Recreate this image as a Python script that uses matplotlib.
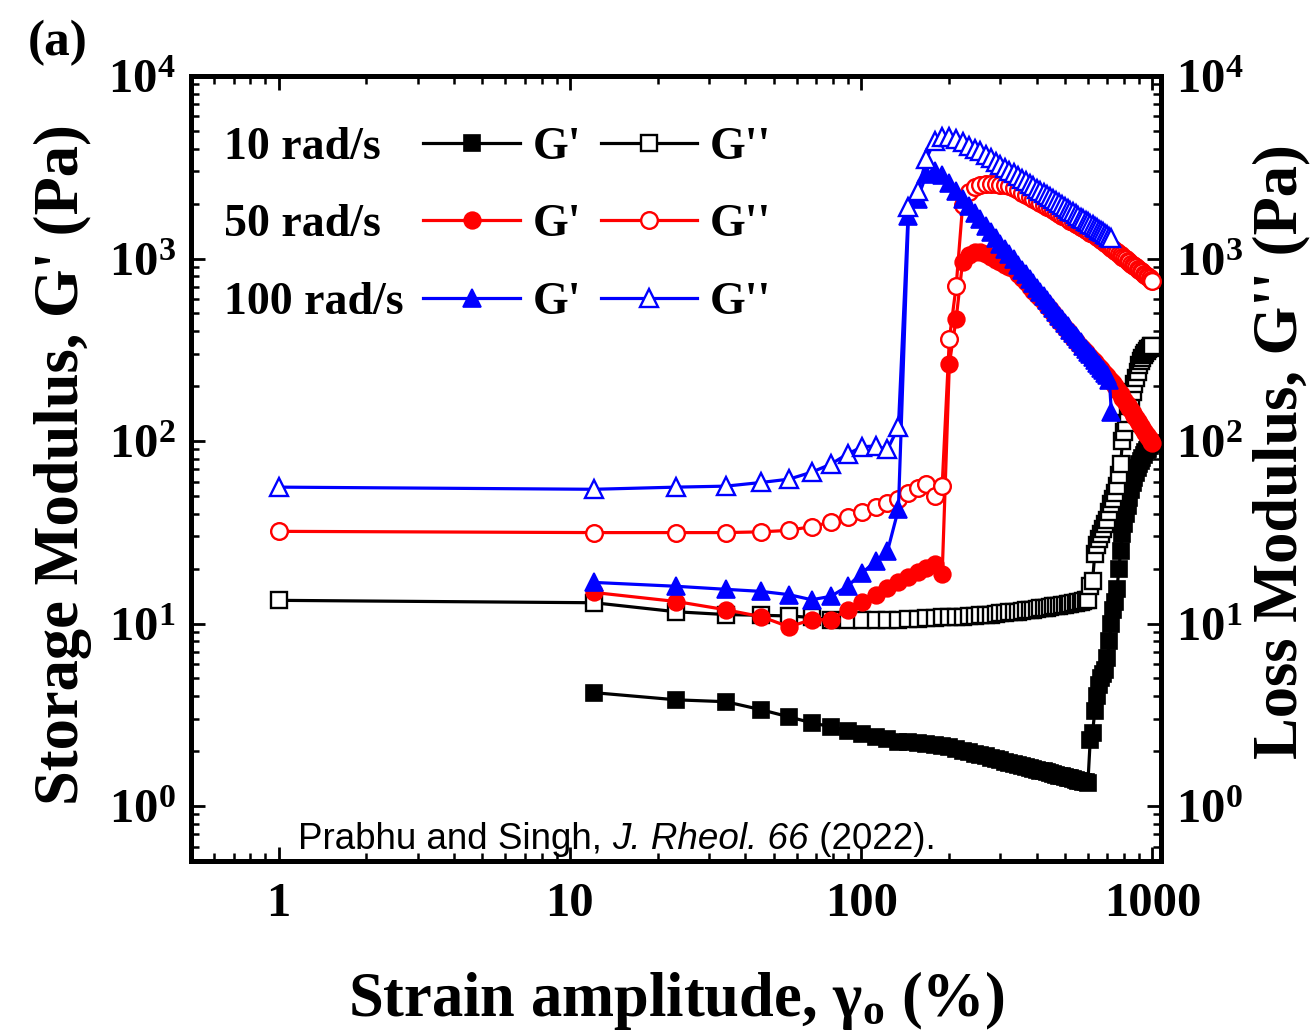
import math
import matplotlib
matplotlib.use("Agg")
import matplotlib.pyplot as plt
from matplotlib.lines import Line2D
from matplotlib.ticker import FuncFormatter, LogLocator

plt.rcParams['font.family'] = ['Liberation Serif', 'DejaVu Serif']
plt.rcParams['font.weight'] = 'bold'
plt.rcParams['axes.labelweight'] = 'bold'
plt.rcParams['mathtext.fontset'] = 'custom'
plt.rcParams['mathtext.rm'] = 'Liberation Serif:bold'
plt.rcParams['mathtext.bf'] = 'Liberation Serif:bold'
plt.rcParams['mathtext.it'] = 'Liberation Serif:bold:italic'

# ---------------- data ----------------
strain = [1.0, 12.1, 23.2, 34.3, 45.4, 56.5, 67.6, 78.7, 89.8, 100.9,
          112.0, 123.1, 134.2, 145.3, 156.4, 167.5, 178.6, 189.7, 200.8, 211.9,
          223.0, 234.1, 245.2, 256.3, 267.4, 278.5, 289.6, 300.7, 311.8, 322.9,
          334.0, 345.1, 356.2, 367.3, 378.4, 389.5, 400.6, 411.7, 422.8, 433.9,
          445.0, 456.1, 467.2, 478.3, 489.4, 500.5, 511.6, 522.7, 533.8, 544.9,
          556.0, 567.1, 578.2, 589.3, 600.4, 611.5, 622.6, 633.7, 644.8, 655.9,
          667.0, 678.1, 689.2, 700.3, 711.4, 722.5, 733.6, 744.7, 755.8, 766.9,
          778.0, 789.1, 800.2, 811.3, 822.4, 833.5, 844.6, 855.7, 866.8, 877.9,
          889.0, 900.1, 911.2, 922.3, 933.4, 944.5, 955.6, 966.7, 977.8, 988.9,
          1000.0]

# 10 rad/s
g2_10 = [13.4, 13.0, 11.6, 11.2, 11.1, 11.0, 10.8, 10.5, 10.5, 10.5,
         10.5, 10.5, 10.5, 10.6, 10.6, 10.7, 10.7, 10.8, 10.8, 10.9,
         10.9, 11.0, 11.0, 11.1, 11.2, 11.2, 11.3, 11.4, 11.4, 11.5,
         11.6, 11.6, 11.7, 11.8, 11.8, 11.9, 12.0, 12.1, 12.1, 12.2,
         12.3, 12.4, 12.4, 12.5, 12.6, 12.7, 12.8, 12.8, 12.9, 13.0,
         13.1, 13.2, 13.3, 13.4, 13.5, 16, 17, 24, 27, 29,
         31, 33, 35, 37, 41, 45, 48, 52, 57, 65,
         75, 100, 112, 125, 140, 155, 170, 185, 205, 222,
         240, 262, 275, 285, 295, 303, 310, 318, 325, 330,
         333]
g1_10 = [4.18, 3.82, 3.73, 3.37, 3.08, 2.86, 2.72, 2.58, 2.49,
         2.39, 2.33, 2.25, 2.23, 2.21, 2.19, 2.16, 2.13, 2.10, 2.05,
         2.01, 1.97, 1.93, 1.90, 1.87, 1.83, 1.80, 1.78, 1.75, 1.73,
         1.70, 1.68, 1.66, 1.64, 1.62, 1.60, 1.58, 1.56, 1.55, 1.53,
         1.51, 1.50, 1.48, 1.47, 1.46, 1.44, 1.43, 1.42, 1.41, 1.39,
         1.38, 1.37, 1.36, 1.35, 1.34, 2.3, 2.5, 3.3, 4.0, 4.6,
         5.0, 5.3, 5.6, 6.5, 8.0, 10.0, 11.8, 13.2, 15.5, 20,
         25, 31, 35, 40, 44, 49, 54, 59, 63, 67,
         71, 75, 78, 81, 84, 87, 89, 91, 94, 96,
         98]

# 50 rad/s
g2_50 = [32, 31.5, 31.5, 31.5, 31.8, 32.4, 34, 35.9, 38.2, 40.7,
         43.3, 46, 48, 51.9, 55.6, 58.5, 50, 57, 363, 707,
         1960, 2300, 2450, 2520, 2550, 2560, 2550, 2540, 2520, 2500,
         2435, 2364, 2297, 2235, 2175, 2118, 2064, 2015, 1966, 1920,
         1880, 1836, 1795, 1755, 1716, 1680, 1644, 1612, 1580, 1549,
         1518, 1490, 1463, 1437, 1411, 1387, 1364, 1340, 1318, 1296,
         1271, 1245, 1219, 1195, 1170, 1146, 1124, 1103, 1082, 1062,
         1043, 1024, 1006, 988, 971, 955, 938, 923, 907, 893,
         879, 865, 852, 839, 826, 813, 802, 789, 778, 767,
         757]
g1_50 = [14.8, 13.2, 11.9, 10.9, 9.6, 10.5, 10.5, 11.9, 13.2,
         14.4, 15.7, 16.8, 17.9, 19.1, 20.1, 21.1, 18.6, 265, 468,
         963, 1050, 1080, 1090, 1052, 1018, 986, 955, 927, 901,
         871, 824, 780, 739, 702, 667, 635, 606, 578, 552,
         526, 501, 478, 457, 437, 418, 401, 385, 369, 354,
         340, 328, 318, 307, 297, 288, 279, 270, 262, 254,
         247, 240, 233, 227, 220, 214, 208, 200, 193, 186,
         180, 173, 168, 162, 157, 151, 147, 142, 137, 133,
         129, 125, 121, 118, 114, 111, 108, 105, 102, 99,
         97]

# 100 rad/s
g2_100 = [55.9, 54.4, 55.9, 56.6, 59.3, 61.8, 67.5, 74.7, 85, 93,
          94, 90, 119, 1917, 2330, 3530, 4400, 4650, 4650, 4500,
          4350, 4150, 4000, 3863, 3694, 3540, 3398, 3264, 3142, 3030,
          2925, 2829, 2736, 2650, 2567, 2489, 2417, 2349, 2285, 2223,
          2164, 2110, 2056, 2006, 1958, 1913, 1870, 1829, 1788, 1750,
          1712, 1676, 1643, 1611, 1579, 1549, 1520, 1491, 1464, 1438,
          1413, 1389, 1366, 1343, 1320, 1290]
g1_100 = [16.8, 16.0, 15.4, 15.0, 14.4, 13.5, 14.1, 16.0, 19.0,
          21.9, 24.9, 42.3, 1700, 2130, 2900, 3000, 2850, 2600, 2350,
          2130, 1950, 1780, 1640, 1510, 1400, 1300, 1207, 1124, 1053,
          990, 927, 870, 818, 772, 730, 689, 654, 620, 589,
          560, 534, 509, 486, 465, 444, 425, 408, 391, 375,
          360, 347, 333, 321, 309, 298, 288, 278, 269, 260,
          252, 244, 236, 229, 215, 145]

freq_labels = ["10 rad/s", "50 rad/s", "100 rad/s"]
x_tick_labels = ["1", "10", "100", "1000"]

# ---------------- figure ----------------
W, H = 1312, 1035
fig = plt.figure(figsize=(W / 100, H / 100), dpi=100)
ax = fig.add_axes([191 / W, 1 - 861 / H, 970 / W, 785 / H])
ax.set_xscale('log')
ax.set_yscale('log')
ax.set_xlim(0.5, 1070)
ax.set_ylim(0.5, 1e4)

series = [
    # (G', G'', color, marker, ms, zorder)
    (g1_10, g2_10, 'black', 's', 11, 2),
    (g1_50, g2_50, 'red', 'o', 12, 3),
    (g1_100, g2_100, 'blue', '^', 13, 4),
]
lw = 2.3
handles_p, handles_pp = [], []
for g1, g2, col, mk, ms, z in series:
    x1 = strain[1:1 + len(g1)]
    x2 = strain[0:len(g2)]
    h1, = ax.plot(x1, g1, color=col, marker=mk, ms=ms, mfc=col, mec=col,
                  mew=1.2, lw=lw, zorder=z)
    h2, = ax.plot(x2, g2, color=col, marker=mk, ms=ms, mfc='white', mec=col,
                  mew=1.7, lw=lw, zorder=z + 0.5)
    handles_p.append(h1)
    handles_pp.append(h2)

# ticks
for sp in ax.spines.values():
    sp.set_linewidth(3.6)
ax.xaxis.set_major_locator(LogLocator(base=10, numticks=10))
ax.yaxis.set_major_locator(LogLocator(base=10, numticks=10))
ax.xaxis.set_minor_locator(LogLocator(base=10, subs=range(2, 10), numticks=20))
ax.yaxis.set_minor_locator(LogLocator(base=10, subs=range(2, 10), numticks=20))
ax.xaxis.set_major_formatter(FuncFormatter(
    lambda v, p: x_tick_labels[int(round(math.log10(v)))] if 1 <= v <= 1000 else ""))
ax.tick_params(which='both', direction='in', top=True, right=True,
               labelright=True, labelsize=35)
ax.tick_params(which='major', length=10, width=2.0)
ax.tick_params(which='minor', length=5.5, width=1.8)
ax.tick_params(axis='x', which='major', pad=15)
ax.tick_params(axis='y', which='major', pad=11)

# axis labels
ax.set_xlabel("Strain amplitude, γ$_{\\mathrm{o}}$ (%)", fontsize=45, va='top')
ax.xaxis.set_label_coords(0.5, -0.137)
ax.set_ylabel("Storage Modulus, G' (Pa)", fontsize=45, va='center')
ax.yaxis.set_label_coords(-0.132, 0.505)
ax.text(1.124, 0.521, "Loss Modulus, G'' (Pa)", fontsize=45, rotation=90,
        ha='center', va='center', rotation_mode='anchor', transform=ax.transAxes)

fig.text(28 / W, 1 - 43 / H, "(a)", fontsize=37, ha='left', va='center')

# legend
blank = [Line2D([], [], color='none') for _ in range(3)]
leg = ax.legend(blank + handles_p + handles_pp,
                freq_labels + ["G'"] * 3 + ["G''"] * 3,
                ncol=3, frameon=False, loc='upper left',
                bbox_to_anchor=(115 / W, 1 - 127 / H), bbox_transform=fig.transFigure,
                fontsize=33, handlelength=2.1, handletextpad=0.28,
                columnspacing=0.43, labelspacing=0.77, borderpad=0, borderaxespad=0)

# citation
kw = dict(fontfamily=['Liberation Sans', 'DejaVu Sans'], fontweight='normal',
          fontsize=26.5, zorder=10)
t1 = ax.text((298 - 191) / 970, (861 - 849) / 785, "Prabhu and Singh, ",
             transform=ax.transAxes, ha='left', va='baseline', **kw)
t2 = ax.annotate("J. Rheol. 66", xy=(1, 0), xycoords=t1, ha='left', va='bottom',
                 fontstyle='italic', **kw)
t3 = ax.annotate(" (2022).", xy=(1, 0), xycoords=t2, ha='left', va='bottom', **kw)

fig.savefig("out.png", dpi=100)
